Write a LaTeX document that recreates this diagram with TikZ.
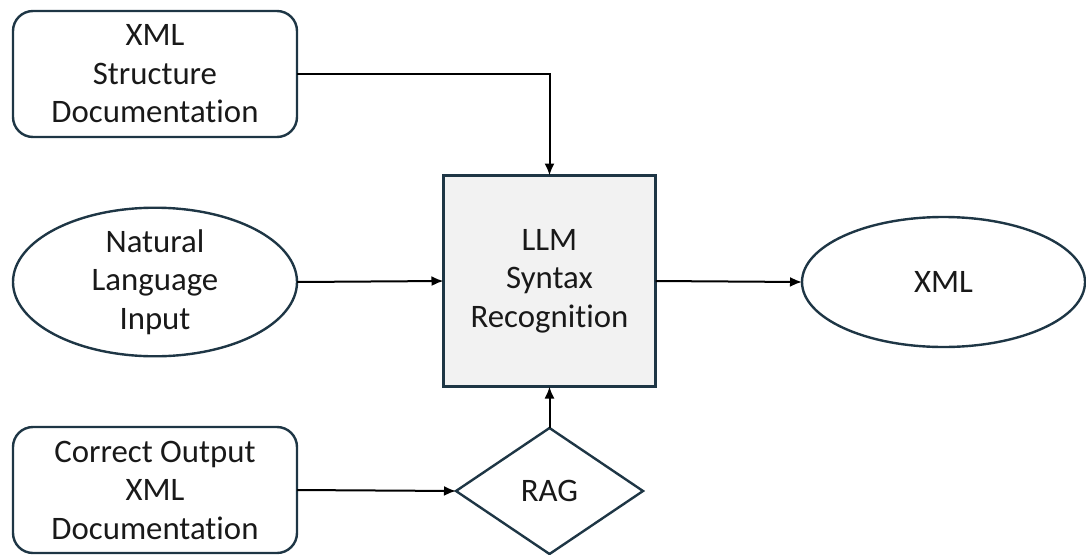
\documentclass[tikz,border=0pt]{standalone}
\usepackage{fontspec}
\setmainfont{Carlito}[Ligatures={NoCommon}]
\usetikzlibrary{shapes.geometric,arrows.meta}
\definecolor{edge}{HTML}{1E3645}
\definecolor{boxfill}{HTML}{F2F2F2}
\tikzset{
  base/.style={draw=edge, line width=2.4pt, align=center, inner sep=0pt, outer sep=0pt,
    font=\fontsize{32.8}{38.5}\selectfont, text=black!90},
  docbox/.style={base, rectangle, rounded corners=20pt, minimum width=284pt, minimum height=126pt},
  oval/.style={base, ellipse, minimum width=284pt, minimum height=129pt},
  procbox/.style={base, rectangle, fill=boxfill, minimum width=212pt, minimum height=211pt},
  decision/.style={base, diamond, minimum width=187pt, minimum height=126pt},
  arr/.style={draw=black, line width=2pt, -{Latex[length=12pt,width=10pt]}}
}
\begin{document}
\begin{tikzpicture}[x=1pt,y=-1pt]
\useasboundingbox (0,0) rectangle (1086,554);
\node[docbox] (doc1) at (155,74) {XML\\Structure\\Documentation};
\node[oval] (nl) at (155,282) {Natural\\Language\\Input};
\node[docbox] (doc2) at (155,490) {Correct Output\\XML\\Documentation};
\node[procbox] (llm) at (549.5,281) {LLM\\Syntax\\Recognition};
\node[decision] (rag) at (549.5,491) {RAG};
\node[oval, minimum width=283pt, minimum height=130pt] (xml) at (943.5,282) {XML};
\draw[arr] (doc1.east) -| (llm.north);
\draw[arr] (nl.east) -- (llm.west);
\draw[arr] (llm.east) -- (xml.west);
\draw[arr] (doc2.east) -- (rag.west);
\draw[arr] (rag.north) -- (llm.south);
\end{tikzpicture}
\end{document}
